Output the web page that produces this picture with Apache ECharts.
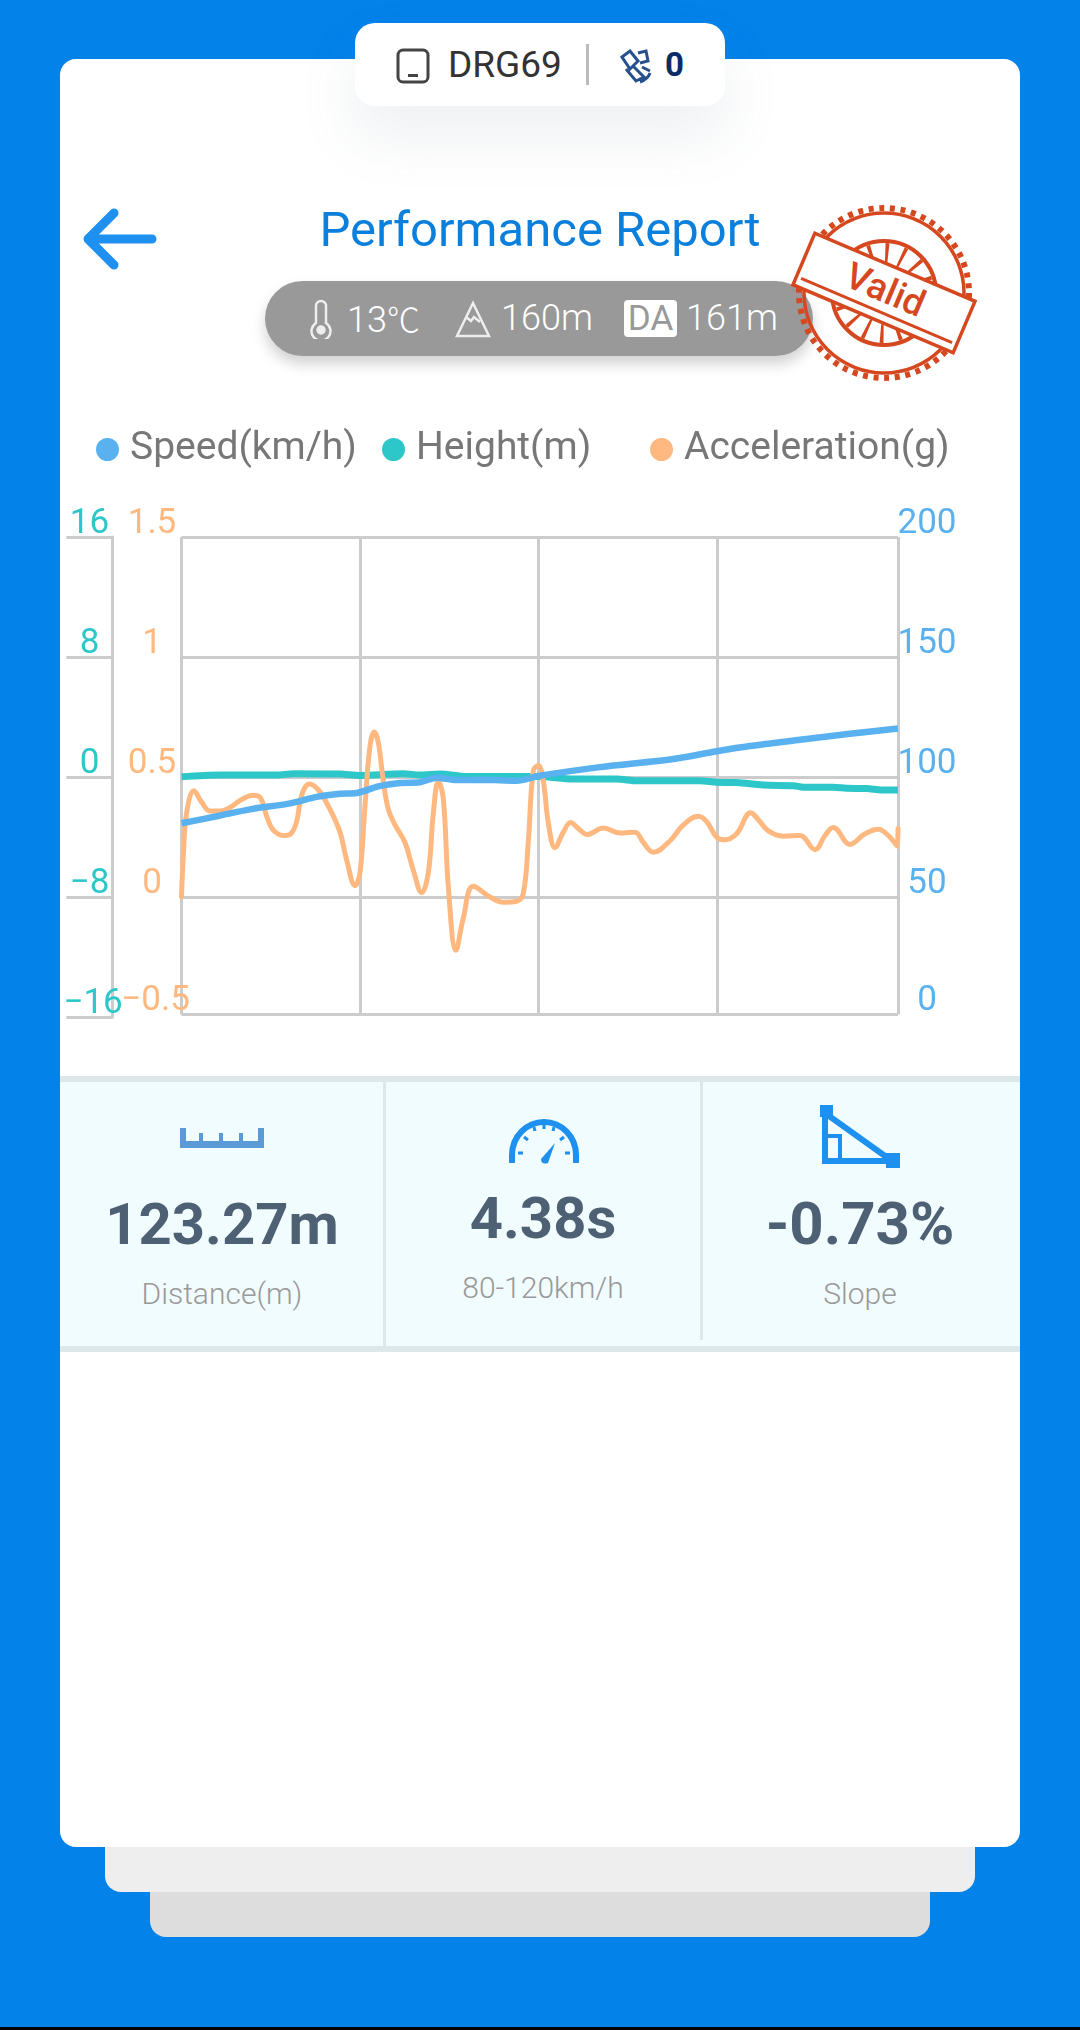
<!DOCTYPE html>
<html lang="en">

<head>
  <meta charset="UTF-8">
  <title>Performance Report</title>
  <script src="https://cdn.jsdelivr.net/npm/echarts@6/dist/echarts.min.js"></script>
  <style>
    html, body { margin: 0; padding: 0; background: #000; }
    #page { position: relative; width: 1080px; height: 2027px; background: #0382ea; overflow: hidden; font-family: Roboto, sans-serif; font-weight: 300; }
    #main { position: absolute; left: 0; top: 0; width: 1080px; height: 2027px; z-index: 2; }
    .abs { position: absolute; white-space: nowrap; }
    .card { position: absolute; border-radius: 0 0 16px 16px; }
    .center { transform: translateX(-50%); }
    .val { font-size: 58px; font-weight: 700; color: #4e6074; line-height: 60px; }
    .sub { font-size: 30px; color: #999; line-height: 34px; }
    .pilltxt { font-size: 36px; color: #fff; line-height: 40px; top: 298px; }
  </style>
</head>

<body>
  <div id="page">
    <div class="card" style="left:150px;width:780px;top:1800px;height:137px;background:#ddd"></div>
    <div class="card" style="left:105px;width:870px;top:1800px;height:92px;background:#eee"></div>
    <div class="card" style="left:60px;width:960px;top:59px;height:1788px;background:#fff;border-radius:16px"></div>

    <!-- top tab -->
    <div class="abs" style="left:355px;top:23px;width:370px;height:83px;background:#fff;border-radius:20px;box-shadow:0 30px 60px rgba(90,110,130,.10)"></div>
    <svg class="abs" style="left:396px;top:48px" width="34" height="36" viewBox="0 0 34 36">
      <rect x="2" y="2" width="30" height="32" rx="5" fill="none" stroke="#444" stroke-width="3"/>
      <rect x="12" y="26" width="10" height="3" fill="#444"/>
    </svg>
    <div class="abs" style="left:448px;top:43px;font-size:37px;line-height:44px;color:#333;font-weight:400">DRG69</div>
    <div class="abs" style="left:586px;top:44px;width:3px;height:41px;background:#bbb"></div>
    <svg class="abs" style="left:618px;top:49px" width="34" height="36" viewBox="0 0 34 36" fill="none" stroke="#27508f" stroke-width="3">
      <path d="M4 8 L12 2 L20 12 L12 20 Z M20 4 L28 2 L30 12 L22 14 M8 20 L18 32 L26 28 L14 16 M24 18 L32 22 M22 33 Q30 30 32 24"/>
    </svg>
    <div class="abs" style="left:665px;top:43px;font-size:33px;line-height:44px;font-weight:700;color:#0b2a66">0</div>

    <!-- header -->
    <svg class="abs" style="left:80px;top:207px" width="80" height="64" viewBox="0 0 80 64" fill="none" stroke="#1e90f0" stroke-width="9" stroke-linecap="round" stroke-linejoin="round">
      <path d="M34 6 L8 32 L34 58 M8 32 L72 32"/>
    </svg>
    <div class="abs center" style="left:540px;top:201px;font-size:49px;line-height:58px;color:#0a7fdb;font-weight:400">Performance Report</div>

    <!-- weather pill -->
    <div class="abs" style="left:265px;top:281px;width:548px;height:75px;border-radius:38px;background:#999;box-shadow:0 8px 14px rgba(0,0,0,.18)"></div>
    <svg class="abs" style="left:308px;top:299px" width="26" height="40" viewBox="0 0 26 40" fill="none" stroke="#eee" stroke-width="2.5">
      <path d="M8 24 V7 a5 5 0 0 1 10 0 V24 a9.5 9.5 0 1 1 -10 0 Z"/><circle cx="13" cy="31" r="3.5" fill="#eee"/>
    </svg>
    <div class="abs pilltxt" style="left:347px">13<span style="font-family:'Noto Sans CJK SC';font-weight:300;font-size:33px;letter-spacing:-2px">℃</span></div>
    <svg class="abs" style="left:455px;top:300px" width="36" height="38" viewBox="0 0 36 38" fill="none" stroke="#eee" stroke-width="2.5">
      <path d="M18 3 L34 36 H2 Z"/><path d="M11 17 L16 21 L19 17 L25 22" />
    </svg>
    <div class="abs pilltxt" style="left:501px">160m</div>
    <div class="abs" style="left:624px;top:300px;width:53px;height:37px;background:#fff;border-radius:4px;color:#999;font-size:35px;line-height:38px;text-align:center;font-weight:400">DA</div>
    <div class="abs pilltxt" style="left:686px">161m</div>

    <!-- stamp -->
    <svg class="abs" style="left:784px;top:193px;z-index:3" width="200" height="200" viewBox="-100 -100 200 200" fill="none" stroke="#d5481f">
      <circle r="85" stroke-width="6" stroke-dasharray="5 5.68"/>
      <circle r="80" stroke-width="3.5"/>
      <circle r="52" stroke-width="4"/>
      <circle r="38" stroke-width="24" stroke-dasharray="3 12"/>
      <g transform="rotate(23)">
        <rect x="-87" y="-28" width="174" height="56" fill="#fff" stroke-width="3.5"/>
        <path d="M-82 19 H82" stroke-width="3"/>
        <text x="0" y="9" text-anchor="middle" fill="#d5481f" stroke="none" font-family="Roboto" font-weight="500" font-size="37">Valid</text>
      </g>
    </svg>

    <!-- stat panel -->
    <div class="abs" style="left:60px;top:1076px;width:960px;height:276px;background:#f1fcfe;border-top:6px solid #dde8ea;border-bottom:6px solid #dde8ea;box-sizing:border-box"></div>
    <div class="abs" style="left:383px;top:1082px;width:3px;height:264px;background:#dde8ea"></div>
    <div class="abs" style="left:699.5px;top:1082px;width:3px;height:258px;background:#dde8ea"></div>

    <svg class="abs" style="left:180px;top:1128px" width="84" height="20" viewBox="0 0 84 20" fill="#5b9bd5">
      <path d="M0 0 H6 V13 H19 V5 H23 V13 H39 V5 H43 V13 H59 V5 H63 V13 H78 V0 H84 V20 H0 Z"/>
    </svg>
    <svg class="abs" style="left:508px;top:1117px" width="72" height="48" viewBox="0 0 72 48" fill="none" stroke="#1e90f0">
      <path d="M4 46 V38 A32 33 0 0 1 68 38 V46" stroke-width="6"/>
      <path d="M10 36 H15 M62 36 H57 M16 20 L20 23 M56 20 L52 23 M36 7 V12 M26 10 L27 14 M46 10 L45 14" stroke-width="3"/>
      <path d="M33 42 L47 26 L40 46 Q33 48 33 42 Z" fill="#1e90f0" stroke="none"/>
    </svg>
    <svg class="abs" style="left:820px;top:1105px" width="80" height="64" viewBox="0 0 80 64" fill="none" stroke="#1e90f0" stroke-width="6">
      <path d="M5 8 V56 H72 Z"/><rect x="6" y="31" width="14" height="24" stroke-width="4"/>
      <rect x="0" y="0" width="13" height="12" fill="#1e90f0" stroke="none"/>
      <rect x="66" y="48" width="14" height="15" fill="#1e90f0" stroke="none"/>
    </svg>

    <div class="abs center val" style="left:222px;top:1194px">123.27m</div>
    <div class="abs center val" style="left:543px;top:1188px">4.38s</div>
    <div class="abs center val" style="left:860px;top:1194px;font-size:60px">-0.73%</div>
    <div class="abs center sub" style="left:222px;top:1277px">Distance(m)</div>
    <div class="abs center sub" style="left:543px;top:1271px">80-120km/h</div>
    <div class="abs center sub" style="left:860px;top:1277px">Slope</div>

    <div id="main"></div>
  </div>

  <script type="text/javascript">
    var speedName = 'Speed(km/h)'
    var heightName = 'Height(m)'
    var accelName = 'Acceleration(g)'

    // [percent of the run, value]
    var speedData = [[0, 80.7], [4.91, 83.6], [9.56, 86.5], [15.14, 89], [18.87, 91.7], [22.12, 93], [24.45, 93.3],
      [27.47, 96.1], [30.5, 97.5], [33.29, 97.8], [35.61, 99.7], [38.4, 98.7], [42.13, 98.8], [46.78, 98.4], [49.8, 100.4],
      [58.41, 104.1], [68.64, 107.5], [74.69, 110.7], [79.34, 112.9], [86.32, 115.5], [93.3, 118], [100, 120.2]]

    var heightData = [[0, 0.01], [5.37, 0.13], [13.28, 0.13], [15.61, 0.22], [22.12, 0.2], [24.91, 0.1], [30.96, 0.22],
      [33.29, 0.13], [36.08, 0.2], [39.8, 0.03], [49.8, 0.03], [54.69, -0.14], [60.74, -0.14], [63.53, -0.25], [72.37, -0.25],
      [74.69, -0.35], [77.48, -0.37], [81.2, -0.54], [85.4, -0.58], [86.79, -0.68], [90.97, -0.68], [92.84, -0.75], [95.63, -0.77],
      [97.72, -0.87], [100, -0.87]]

    var accelData = [[0, 0], [0.26, 0.175], [0.72, 0.351], [1.74, 0.442], [2.81, 0.395], [3.98, 0.358], [5.37, 0.358], [6.77, 0.373],
      [8.4, 0.406], [10.03, 0.424], [11.05, 0.412], [11.89, 0.336], [12.82, 0.278], [14.21, 0.256], [15.24, 0.263], [16.07, 0.314],
      [16.77, 0.424], [17.84, 0.471], [19.1, 0.446], [20.73, 0.365], [22.12, 0.27], [23.05, 0.154], [24.22, 0.047], [24.91, 0.102],
      [25.61, 0.38], [26.31, 0.629], [26.91, 0.687], [27.47, 0.643], [28.17, 0.482], [28.87, 0.365], [29.8, 0.3], [31.19, 0.227],
      [32.36, 0.11], [33.52, 0.018], [34.45, 0.102], [35.15, 0.351], [35.85, 0.482], [36.54, 0.409], [37.24, 0.044], [38.31, -0.222],
      [39.33, -0.088], [40.73, 0.044], [43.06, 0], [44.92, -0.022], [46.78, -0.018], [47.71, 0.015], [48.41, 0.234], [49.1, 0.526],
      [49.8, 0.548], [50.5, 0.482], [51.2, 0.307], [52.13, 0.205], [53.29, 0.27], [54.32, 0.31], [55.39, 0.285], [56.64, 0.26],
      [58.87, 0.287], [61.2, 0.266], [63.29, 0.27], [64.46, 0.227], [65.85, 0.186], [68.18, 0.234], [70.04, 0.3], [72.13, 0.336],
      [73.3, 0.314], [74.69, 0.249], [75.86, 0.238], [77.48, 0.263], [79.44, 0.351], [80.51, 0.322], [81.9, 0.275], [84, 0.253],
      [86.32, 0.256], [88.42, 0.197], [89.81, 0.256], [90.97, 0.289], [93.3, 0.219], [95.39, 0.263], [97.25, 0.282], [98.65, 0.256],
      [99.9, 0.212], [100, 0.285]]

    // bottom tick of these two axes sits a touch above the nominal 0 / -0.5
    var speedTicks = [1, 50, 100, 150, 200]
    var accelTicks = [-0.49, 0, 0.5, 1, 1.5]
    var xTicks = [0, 25, 49.8, 74.8, 100]

    var labelFont = { fontFamily: 'Roboto', fontWeight: 400, fontSize: 35, verticalAlign: 'bottom', align: 'center', lineHeight: 26 }
    var gridLine = { show: true, lineStyle: { color: '#ccc', width: 3 } }

    function legendOf(name, left) {
      return {
        left: left, top: 425, orient: 'horizontal', data: [{ name: name, icon: 'circle' }], itemWidth: 23, itemHeight: 23,
        selectedMode: false,
        textStyle: { color: '#777', fontFamily: 'Roboto', fontWeight: 400, fontSize: 39, padding: [0, 0, 0, 6] }
      }
    }

    // the lowest labels sit a little right of the others
    function minusLabel(text, isLowest) {
      var t = text.replace('-', '\u2212')
      return isLowest ? '\u2009' + t : t
    }

    var myChart = echarts.init(document.getElementById('main'), null, { renderer: 'canvas' })
    myChart.setOption({
      animation: false,
      legend: [legendOf(speedName, 91), legendOf(heightName, 377), legendOf(accelName, 645)],
      grid: [
        { left: 181.5, top: 537, width: 716.5, height: 477.5 },
        { left: 181.5, top: 537, width: 716.5, height: 480 }
      ],
      xAxis: [
        { type: 'value', gridIndex: 0, min: 0, max: 100, axisLine: { show: false }, axisTick: { show: false, customValues: xTicks }, axisLabel: { show: false }, splitLine: gridLine },
        { type: 'value', gridIndex: 1, min: 0, max: 100, show: false }
      ],
      yAxis: [
        {
          type: 'value', gridIndex: 0, position: 'right', min: speedTicks[0], max: 200,
          axisLine: { show: false }, axisTick: { show: false, customValues: speedTicks }, splitLine: gridLine,
          axisLabel: Object.assign({ color: '#5ab1ef', margin: 29, customValues: speedTicks, formatter: function (v) { return String(Math.round(v / 50) * 50) } }, labelFont)
        },
        {
          type: 'value', gridIndex: 0, position: 'left', min: accelTicks[0], max: 1.5,
          axisLine: { show: false }, axisTick: { show: false, customValues: accelTicks }, splitLine: { show: false },
          axisLabel: Object.assign({ color: '#ffb980', margin: 29.5, customValues: accelTicks, formatter: function (v) { return minusLabel(String(Math.round(v * 2) / 2), v < -0.4) } }, labelFont)
        },
        {
          type: 'value', gridIndex: 1, position: 'left', offset: 69, min: -16, max: 16, interval: 8,
          axisLine: { show: true, onZero: false, lineStyle: { color: '#ccc', width: 3 } },
          axisTick: { show: true, length: 46, lineStyle: { color: '#ccc', width: 3 } }, splitLine: { show: false },
          axisLabel: Object.assign({ color: '#2ec7c9', margin: 23, formatter: function (v) { return minusLabel(String(v), v === -16) } }, labelFont)
        }
      ],
      series: [
        { name: heightName, type: 'line', xAxisIndex: 1, yAxisIndex: 2, z: 2, smooth: 0.3, showSymbol: false, clip: false, data: heightData, itemStyle: { color: '#2ec7c9' }, lineStyle: { color: '#2ec7c9', width: 7 } },
        { name: accelName, type: 'line', xAxisIndex: 0, yAxisIndex: 1, z: 3, smooth: 0.4, showSymbol: false, clip: false, data: accelData, itemStyle: { color: '#ffb980' }, lineStyle: { color: '#ffb980', width: 5, cap: 'round' } },
        { name: speedName, type: 'line', xAxisIndex: 0, yAxisIndex: 0, z: 4, smooth: 0.3, showSymbol: false, clip: false, data: speedData, itemStyle: { color: '#5ab1ef' }, lineStyle: { color: '#5ab1ef', width: 6.5 } }
      ]
    })
  </script>
</body>
</html>
